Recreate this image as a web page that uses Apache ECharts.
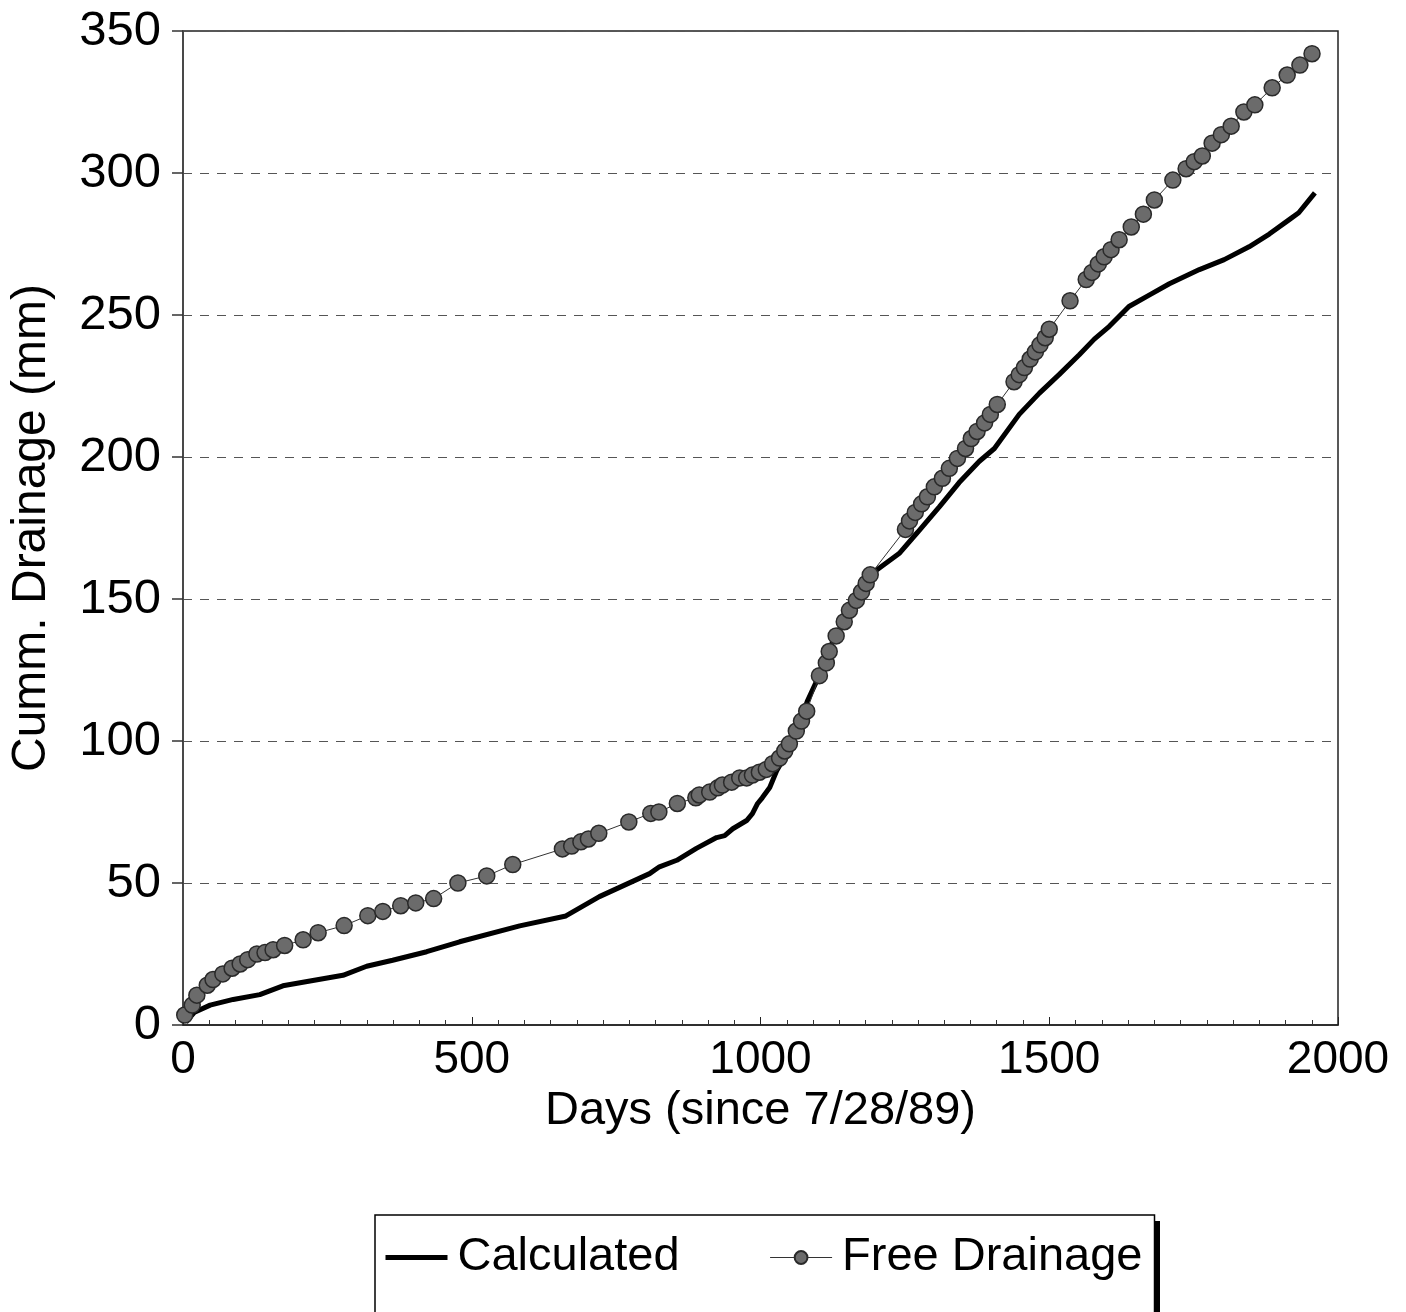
<!DOCTYPE html>
<html>
<head>
<meta charset="utf-8">
<script src="https://cdn.jsdelivr.net/npm/echarts@6/dist/echarts.min.js"></script>
<style>
html,body{margin:0;padding:0;background:#fff;}
#chart{width:1406px;height:1312px;}
</style>
</head>
<body>
<div id="chart"></div>
<script>
const xTicks = [0, 500, 1000, 1500, 2000];
const yTicks = [0, 50, 100, 150, 200, 250, 300, 350];

const calcDays = [5,7,20,47,87,133,173,220,277,318,363,422,479,583,663,721,808,825,855,889,924,938,952,976,986,995,1003,1016,1028,1045,1062,1081,1097,1125,1137,1159,1189,1200,1240,1272,1310,1344,1379,1405,1448,1483,1517,1552,1578,1604,1638,1673,1708,1760,1803,1846,1881,1915,1932,1960];
const calcVals = [1,1.7,4.5,7,9,10.7,13.8,15.5,17.5,20.7,22.8,25.8,29.3,34.9,38.4,45.2,53.3,55.7,58,62.2,66,66.7,69.1,72,74.4,78,80,83.6,89.5,95.5,102.5,114,121,135,139.5,149,157,160,166,173.5,182.5,191,198.5,203,215,222.5,229,236,241.5,246,253,257,261,266,269.5,274,278.5,283.5,286,293];

const fdDays = [3,16,24,42,52,69,85,99,112,128,142,156,176,208,234,279,320,346,377,403,434,476,526,571,657,673,689,702,720,772,810,824,856,888,894,912,926,934,950,964,976,986,998,1010,1021,1033,1042,1050,1062,1071,1080,1102,1114,1119,1131,1145,1154,1166,1175,1183,1190,1251,1258,1268,1279,1289,1301,1315,1327,1341,1355,1365,1375,1388,1398,1410,1439,1448,1457,1467,1476,1484,1493,1500,1536,1564,1574,1585,1595,1607,1621,1642,1663,1682,1714,1737,1751,1765,1782,1798,1815,1837,1856,1886,1912,1934,1955];
const fdVals = [3.5,7,10.5,14,16,18,20,21.5,23,25,25.5,26.5,28,30,32.5,35,38.5,40,42,43,44.5,50,52.5,56.5,62,63,64.5,65.5,67.5,71.5,74.5,75,78,80,81,82,83.5,84.5,85.5,87,87,88,89,90,92,94,96.5,99,103.5,107,110.5,123,127.5,131.5,137,142,146,149.5,152.5,155.5,158.5,174.5,177.5,180.5,183.5,186,189.5,192.5,196,199.5,203,206.5,209,212,215,218.5,226.5,229,231.5,234.5,237,239.5,242,245,255,262.5,265,268,270.5,273,276.5,281,285.5,290.5,297.5,301.5,304,306,310.5,313.5,316.5,321.5,324,330,334.5,338,342];

const calcData = calcDays.map((d, i) => [d, calcVals[i]]);
const fdData = fdDays.map((d, i) => [d, fdVals[i]]);

const FONT = '"Liberation Sans", Arial, sans-serif';
const chart = echarts.init(document.getElementById('chart'), null, {renderer: 'canvas'});
chart.setOption({
  animation: false,
  backgroundColor: '#fff',
  grid: {
    left: 183, right: 68, top: 31, bottom: 287,
    show: true, borderColor: '#222', borderWidth: 1.5, backgroundColor: 'transparent'
  },
  graphic: [
    {type: 'rect', left: 381, top: 1221, z: 0,
     shape: {width: 779, height: 120}, style: {fill: '#000'}}
  ],
  xAxis: {
    type: 'value',
    min: xTicks[0], max: xTicks[xTicks.length - 1], interval: 500,
    name: 'Days (since 7/28/89)',
    nameLocation: 'middle', nameGap: 56,
    nameTextStyle: {fontFamily: FONT, fontSize: 47, color: '#000'},
    axisLine: {show: true, onZero: false, lineStyle: {color: '#222', width: 1.5}},
    axisTick: {show: true, inside: true, length: 8, lineStyle: {color: '#222', width: 1}},
    minorTick: {show: true, splitNumber: 11, length: 5, lineStyle: {color: '#333', width: 1}},
    axisLabel: {fontFamily: FONT, fontSize: 46, color: '#000', margin: 12,
                formatter: v => String(v)},
    splitLine: {show: false}
  },
  yAxis: {
    type: 'value',
    min: yTicks[0], max: yTicks[yTicks.length - 1], interval: 50,
    name: 'Cumm. Drainage (mm)',
    nameLocation: 'middle', nameGap: 127,
    nameTextStyle: {fontFamily: FONT, fontSize: 48, color: '#000'},
    axisLine: {show: true, lineStyle: {color: '#444', width: 1.5}},
    axisTick: {show: true, inside: false, length: 11, lineStyle: {color: '#333', width: 1.5}},
    axisLabel: {fontFamily: FONT, fontSize: 49, color: '#000', margin: 22,
                formatter: v => String(v)},
    splitLine: {show: true, lineStyle: {color: '#555', width: 1, type: [9, 8]}}
  },
  legend: {
    left: 375, top: 1215,
    orient: 'horizontal',
    padding: [19, 12, 60, 8],
    itemGap: 90,
    itemWidth: 62, itemHeight: 16,
    backgroundColor: '#fff',
    borderColor: '#000', borderWidth: 1.5,
    textStyle: {fontFamily: FONT, fontSize: 47, color: '#000', padding: [0, 0, 0, 5]},
    z: 5,
    data: [
      {name: 'Calculated', lineStyle: {width: 5, color: '#000'}, itemStyle: {opacity: 0}},
      {name: 'Free Drainage', lineStyle: {width: 1, color: '#333'}}
    ]
  },
  series: [
    {
      name: 'Calculated',
      type: 'line',
      data: calcData,
      showSymbol: false,
      symbol: 'none',
      lineStyle: {color: '#000', width: 5},
      itemStyle: {color: '#000'},
      z: 2
    },
    {
      name: 'Free Drainage',
      type: 'line',
      data: fdData,
      symbol: 'circle',
      symbolSize: 16,
      showSymbol: true,
      lineStyle: {color: '#333', width: 1},
      itemStyle: {color: '#6b6b6b', borderColor: '#2a2a2a', borderWidth: 1.5},
      z: 3
    }
  ]
});
</script>
</body>
</html>
